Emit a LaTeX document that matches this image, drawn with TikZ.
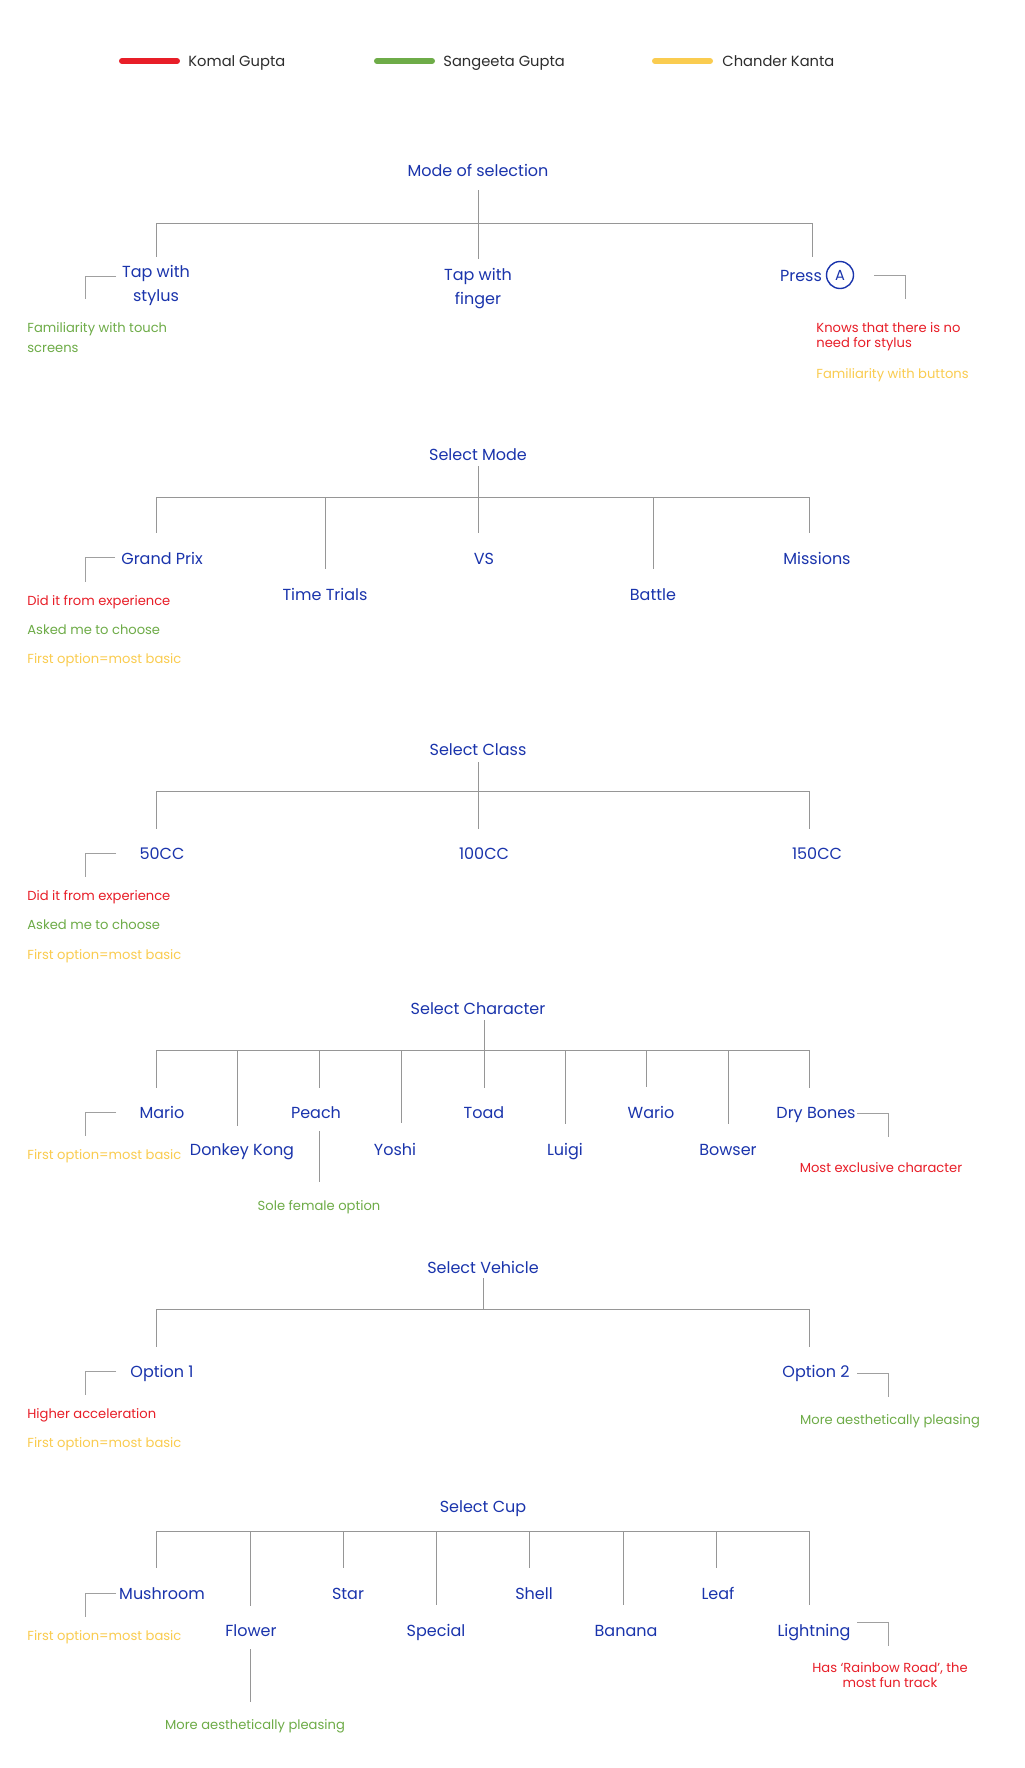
\documentclass[tikz,border=0pt]{standalone}
\usepackage{fontspec}
\setmainfont{Poppins}
\usetikzlibrary{positioning,calc}
\definecolor{navy}{RGB}{26,52,172}
\definecolor{kred}{RGB}{232,30,40}
\definecolor{sgreen}{RGB}{110,172,72}
\definecolor{cyellow}{RGB}{250,204,80}
\definecolor{linegrey}{RGB}{150,150,150}
\definecolor{legtext}{RGB}{45,45,45}
\tikzset{
  head/.style={text=navy,font=\fontsize{8}{12}\selectfont,inner sep=0pt,anchor=mid},
  note/.style={font=\fontsize{6.55}{10}\selectfont,inner sep=0pt,anchor=mid west},
  legend/.style={text=legtext,font=\fontsize{7.35}{9}\selectfont,inner sep=0pt,anchor=mid west},
  tree/.style={draw=linegrey,line width=0.5pt},
  tick/.style={draw=linegrey!90,line width=0.5pt},
  swatch/.style={line width=3pt,line cap=round},
  btn/.style={circle,draw=navy,line width=0.7pt,minimum size=13.5pt,inner sep=0pt,
    text=navy,font=\fontsize{7.3}{9}\selectfont},
}
\begin{document}
\begin{tikzpicture}[x=0.5pt,y=-0.5pt]
\useasboundingbox (0,0) rectangle (1024,1768);
\fill[white] (0,0) rectangle (1024,1768);

% Legend
\draw[swatch,kred] (122,61) -- (177,61);
\node[legend] (komal) at (188,61) {Komal Gupta};
\draw[swatch,sgreen] (377,61) -- (432,61);
\node[legend] (sangeeta) at (443,61) {Sangeeta Gupta};
\draw[swatch,cyellow] (655,61) -- (710,61);
\node[legend] (chander) at (722,61) {Chander Kanta};

% --- Mode of selection ---
\node[head] (mode) at (478,171) {Mode of selection};
\coordinate (modeL) at (156,223);
\coordinate (modeR) at (812,223);
\coordinate (mode-s) at (478,190);
\coordinate (stylus-t) at (156,257);
\coordinate (finger-t) at (478,259);
\coordinate (press-t) at (812,257);
\draw[tree] (modeL) -- (modeR);
\draw[tree] (mode-s) -- (finger-t);
\draw[tree] (stylus-t |- modeL) -- (stylus-t);
\draw[tree] (press-t |- modeL) -- (press-t);
\node[head,align=center,anchor=center] (stylus) at (156,285) {Tap with\\stylus};
\node[head,align=center,anchor=center] (finger) at (478,289) {Tap with\\finger};
\node[head] (press) at (801,276) {Press};
\node[btn] (btnA) at (840,275) {A};
\draw[tick] (116,276) -| (85,299);
\draw[tick] (874,275) -| (905,299);
\node[note,sgreen,align=left,anchor=west] (n-touch) at (27,338) {Familiarity with touch\\screens};
\node[note,kred,align=left,anchor=west,font=\fontsize{6.55}{7.5}\selectfont] (n-nostylus) at (816,337) {Knows that there is no\\need for stylus};
\node[note,cyellow] (n-buttons) at (816,373) {Familiarity with buttons};

% --- Select Mode ---
\node[head] (selmode) at (478,455) {Select Mode};
\coordinate (smL) at (156,497);
\coordinate (smR) at (809,497);
\coordinate (selmode-s) at (478,466);
\coordinate (gp-t) at (156,533);
\coordinate (tt-t) at (325,569);
\coordinate (vs-t) at (478,533);
\coordinate (battle-t) at (653,569);
\coordinate (missions-t) at (809,533);
\draw[tree] (smL) -- (smR);
\draw[tree] (selmode-s) -- (vs-t);
\draw[tree] (gp-t |- smL) -- (gp-t);
\draw[tree] (tt-t |- smL) -- (tt-t);
\draw[tree] (battle-t |- smL) -- (battle-t);
\draw[tree] (missions-t |- smL) -- (missions-t);
\node[head] (gp) at (162,559) {Grand Prix};
\node[head] (tt) at (325,595) {Time Trials};
\node[head] (vs) at (484,559) {VS};
\node[head] (battle) at (653,595) {Battle};
\node[head] (missions) at (817,559) {Missions};
\draw[tick] (115,557) -| (85,582);
\node[note,kred] (n-gp1) at (27,600) {Did it from experience};
\node[note,sgreen] (n-gp2) at (27,629) {Asked me to choose};
\node[note,cyellow] (n-gp3) at (27,658) {First option=most basic};

% --- Select Class ---
\node[head] (selclass) at (478,750) {Select Class};
\coordinate (scL) at (156,791);
\coordinate (scR) at (809,791);
\coordinate (selclass-s) at (478,762);
\coordinate (cc50-t) at (156,829);
\coordinate (cc100-t) at (478,829);
\coordinate (cc150-t) at (809,829);
\draw[tree] (scL) -- (scR);
\draw[tree] (selclass-s) -- (cc100-t);
\draw[tree] (cc50-t |- scL) -- (cc50-t);
\draw[tree] (cc150-t |- scL) -- (cc150-t);
\node[head] (cc50) at (162,854) {50CC};
\node[head] (cc100) at (484,854) {100CC};
\node[head] (cc150) at (817,854) {150CC};
\draw[tick] (116,853) -| (85,877);
\node[note,kred] (n-cc1) at (27,895) {Did it from experience};
\node[note,sgreen] (n-cc2) at (27,924) {Asked me to choose};
\node[note,cyellow] (n-cc3) at (27,954) {First option=most basic};

% --- Select Character ---
\node[head] (selchar) at (478,1009) {Select Character};
\coordinate (chL) at (156,1050);
\coordinate (chR) at (809,1050);
\coordinate (selchar-s) at (484,1020);
\coordinate (mario-t) at (156,1088);
\coordinate (dk-t) at (237,1126);
\coordinate (peach-t) at (319,1088);
\coordinate (yoshi-t) at (401,1123);
\coordinate (toad-t) at (484,1088);
\coordinate (luigi-t) at (565,1124);
\coordinate (wario-t) at (646,1087);
\coordinate (bowser-t) at (728,1124);
\coordinate (drybones-t) at (809,1088);
\draw[tree] (chL) -- (chR);
\draw[tree] (selchar-s) -- (toad-t);
\draw[tree] (mario-t |- chL) -- (mario-t);
\draw[tree] (dk-t |- chL) -- (dk-t);
\draw[tree] (peach-t |- chL) -- (peach-t);
\draw[tree] (yoshi-t |- chL) -- (yoshi-t);
\draw[tree] (luigi-t |- chL) -- (luigi-t);
\draw[tree] (wario-t |- chL) -- (wario-t);
\draw[tree] (bowser-t |- chL) -- (bowser-t);
\draw[tree] (drybones-t |- chL) -- (drybones-t);
\node[head] (mario) at (162,1113) {Mario};
\node[head] (peach) at (316,1113) {Peach};
\node[head] (toad) at (484,1113) {Toad};
\node[head] (wario) at (651,1113) {Wario};
\node[head] (drybones) at (816,1113) {Dry Bones};
\node[head] (dk) at (242,1150) {Donkey Kong};
\node[head] (yoshi) at (395,1150) {Yoshi};
\node[head] (luigi) at (565,1150) {Luigi};
\node[head] (bowser) at (728,1150) {Bowser};
\draw[tick] (116,1112) -| (85,1136);
\node[note,cyellow] (n-mario) at (27,1154) {First option=most basic};
\node[note,sgreen,anchor=mid] (n-peach) at (319,1205) {Sole female option};
\draw[tree] ($(n-peach.north |- peach.south)+(0,12)$) -- ($(n-peach.north)+(0,-18)$);
\draw[tick] (857,1113) -| (888,1137);
\node[note,kred,anchor=mid] (n-dry) at (881,1167) {Most exclusive character};

% --- Select Vehicle ---
\node[head] (selveh) at (483,1268) {Select Vehicle};
\coordinate (svL) at (156,1309);
\coordinate (svR) at (809,1309);
\coordinate (selveh-s) at (483,1278);
\coordinate (opt1-t) at (156,1347);
\coordinate (opt2-t) at (809,1347);
\draw[tree] (svL) -- (svR);
\draw[tree] (selveh-s) -- (selveh-s |- svL);
\draw[tree] (opt1-t |- svL) -- (opt1-t);
\draw[tree] (opt2-t |- svL) -- (opt2-t);
\node[head] (opt1) at (162,1372) {Option 1};
\node[head] (opt2) at (816,1372) {Option 2};
\draw[tick] (116,1371) -| (85,1395);
\draw[tick] (857,1373) -| (888,1397);
\node[note,kred] (n-opt1a) at (27,1413) {Higher acceleration};
\node[note,cyellow] (n-opt1b) at (27,1442) {First option=most basic};
\node[note,sgreen,anchor=mid] (n-opt2) at (890,1419) {More aesthetically pleasing};

% --- Select Cup ---
\node[head] (selcup) at (483,1507) {Select Cup};
\coordinate (cuL) at (156,1531);
\coordinate (cuR) at (809,1531);
\coordinate (mushroom-t) at (156,1568);
\coordinate (flower-t) at (250,1606);
\coordinate (star-t) at (343,1568);
\coordinate (special-t) at (436,1605);
\coordinate (shell-t) at (529,1568);
\coordinate (banana-t) at (623,1605);
\coordinate (leaf-t) at (716,1568);
\coordinate (lightning-t) at (809,1605);
\draw[tree] (cuL) -- (cuR);
\draw[tree] (mushroom-t |- cuL) -- (mushroom-t);
\draw[tree] (flower-t |- cuL) -- (flower-t);
\draw[tree] (star-t |- cuL) -- (star-t);
\draw[tree] (special-t |- cuL) -- (special-t);
\draw[tree] (shell-t |- cuL) -- (shell-t);
\draw[tree] (banana-t |- cuL) -- (banana-t);
\draw[tree] (leaf-t |- cuL) -- (leaf-t);
\draw[tree] (lightning-t |- cuL) -- (lightning-t);
\node[head] (mushroom) at (162,1594) {Mushroom};
\node[head] (star) at (348,1594) {Star};
\node[head] (shell) at (534,1594) {Shell};
\node[head] (leaf) at (718,1594) {Leaf};
\node[head] (flower) at (251,1631) {Flower};
\node[head] (special) at (436,1631) {Special};
\node[head] (banana) at (626,1631) {Banana};
\node[head] (lightning) at (814,1631) {Lightning};
\draw[tick] (116,1593) -| (85,1617);
\node[note,cyellow] (n-mush) at (27,1635) {First option=most basic};
\node[note,sgreen,anchor=mid] (n-flower) at (255,1724) {More aesthetically pleasing};
\draw[tree] ($(flower-t |- flower.south)+(0,12)$) -- ($(flower-t |- n-flower.north)+(0,-17)$);
\draw[tick] (857,1622) -| (888,1646);
\node[note,kred,align=center,anchor=center,font=\fontsize{6.55}{7.25}\selectfont] (n-light) at (890,1675) {Has `Rainbow Road', the\\most fun track};
\end{tikzpicture}
\end{document}
